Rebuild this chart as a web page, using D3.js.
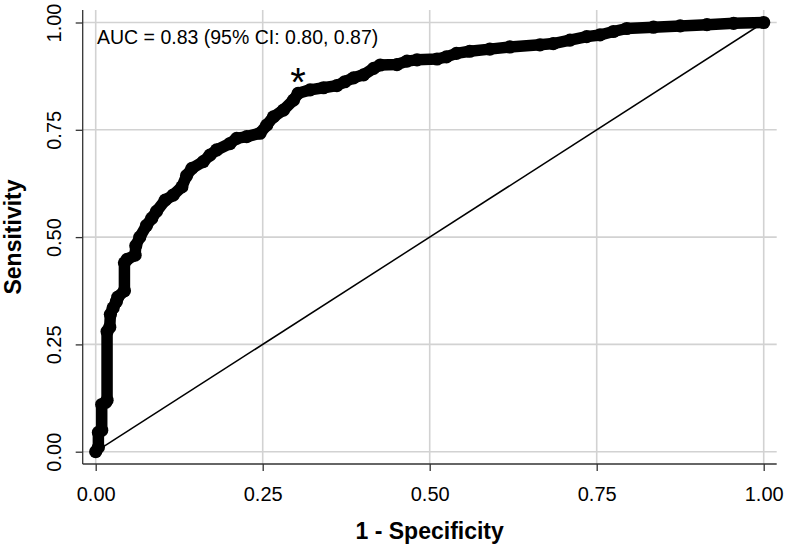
<!DOCTYPE html>
<html>
<head>
<meta charset="utf-8">
<script src="https://cdn.jsdelivr.net/npm/d3@7"></script>
<style>
  body { margin: 0; background: #fff; }
  svg { display: block; font-family: "Liberation Sans", Arial, sans-serif; }
</style>
</head>
<body>
<div id="chart"></div>
<script>
// ROC curve points
const fpr = [0, 0.004, 0.004, 0.009, 0.009, 0.015, 0.017, 0.017, 0.021, 0.022, 0.026, 0.031, 0.033, 0.043, 0.043,
  0.047, 0.059, 0.060, 0.066, 0.076, 0.084, 0.091, 0.104, 0.116, 0.129, 0.136, 0.144, 0.161, 0.171, 0.181,
  0.201, 0.211, 0.226, 0.246, 0.256, 0.266, 0.281, 0.296, 0.303, 0.321, 0.341, 0.361, 0.373, 0.386, 0.401,
  0.416, 0.426, 0.451, 0.466, 0.481, 0.511, 0.525, 0.54, 0.56, 0.59, 0.62, 0.665, 0.685, 0.71, 0.735,
  0.755, 0.775, 0.795, 0.835, 0.875, 0.915, 0.955, 1];
const tpr = [0, 0.01, 0.045, 0.05, 0.11, 0.115, 0.12, 0.28, 0.29, 0.32, 0.335, 0.35, 0.36, 0.375, 0.44,
  0.448, 0.458, 0.48, 0.50, 0.527, 0.544, 0.56, 0.586, 0.598, 0.617, 0.643, 0.66, 0.676, 0.691, 0.703,
  0.718, 0.73, 0.734, 0.742, 0.761, 0.78, 0.796, 0.819, 0.835, 0.843, 0.848, 0.853, 0.862, 0.871, 0.878,
  0.893, 0.901, 0.902, 0.91, 0.913, 0.915, 0.92, 0.928, 0.933, 0.938, 0.943, 0.948, 0.951, 0.959, 0.967,
  0.971, 0.979, 0.986, 0.989, 0.992, 0.995, 0.998, 1];
const cutoff = [0.303, 0.835];
const xTicks = [0, 0.25, 0.5, 0.75, 1];
const yTicks = [0, 0.25, 0.5, 0.75, 1];
const aucLabel = "AUC = 0.83 (95% CI: 0.80, 0.87)";

const width = 786, height = 546;
const plotLeft = 82.7, plotRight = 776.7, plotTop = 10, plotBottom = 464;

const svg = d3.select("#chart").append("svg")
  .attr("width", width)
  .attr("height", height);

// Scales
const x = d3.scaleLinear().domain([0, 1]).range([95.7, 763.7]);
const y = d3.scaleLinear().domain([0, 1]).range([451.7, 22.5]);

// Grid lines
svg.append("g")
  .selectAll("line")
  .data(yTicks)
  .enter()
  .append("line")
  .attr("x1", plotLeft).attr("x2", plotRight)
  .attr("y1", d => y(d)).attr("y2", d => y(d))
  .attr("stroke", "#d2d2d2").attr("stroke-width", 1.6);

svg.append("g")
  .selectAll("line")
  .data(xTicks)
  .enter()
  .append("line")
  .attr("x1", d => x(d)).attr("x2", d => x(d))
  .attr("y1", plotTop).attr("y2", plotBottom)
  .attr("stroke", "#d2d2d2").attr("stroke-width", 1.6);

// Reference diagonal
svg.append("line")
  .attr("x1", x(0)).attr("y1", y(0))
  .attr("x2", x(1)).attr("y2", y(1))
  .attr("stroke", "#000").attr("stroke-width", 1.5);

// ROC curve
const pts = fpr.map((d, i) => [d, tpr[i]]);
const line = d3.line().x(d => x(d[0])).y(d => y(d[1]));

svg.append("path")
  .datum(pts)
  .attr("d", line)
  .attr("fill", "none")
  .attr("stroke", "#000")
  .attr("stroke-width", 11.5)
  .attr("stroke-linejoin", "round")
  .attr("stroke-linecap", "round");

svg.append("g")
  .selectAll("circle")
  .data(pts)
  .enter()
  .append("circle")
  .attr("cx", d => x(d[0]))
  .attr("cy", d => y(d[1]))
  .attr("r", 6.6)
  .attr("fill", "#000");

// Axes
const xAxis = svg.append("g")
  .attr("transform", `translate(0,${plotBottom})`)
  .call(d3.axisBottom(x).tickValues(xTicks).tickSize(7).tickFormat(d3.format(".2f")));
xAxis.select(".domain").remove();
xAxis.selectAll("line").attr("stroke", "#333").attr("stroke-width", 1.3);
xAxis.selectAll("text")
  .attr("y", 37).attr("dy", null)
  .attr("fill", "#000")
  .style("font-size", "20px")
  .style("font-family", "Liberation Sans, Arial, sans-serif");

const yAxis = svg.append("g")
  .attr("transform", `translate(${plotLeft},0)`)
  .call(d3.axisLeft(y).tickValues(yTicks).tickSize(7).tickFormat(d3.format(".2f")));
yAxis.select(".domain").remove();
yAxis.selectAll("line").attr("stroke", "#333").attr("stroke-width", 1.3);
yAxis.selectAll("text")
  .attr("x", 0).attr("y", -21.7).attr("dy", null)
  .attr("transform", "rotate(-90)")
  .attr("text-anchor", "middle")
  .attr("fill", "#000")
  .style("font-size", "20px")
  .style("font-family", "Liberation Sans, Arial, sans-serif");

svg.append("line")
  .attr("x1", plotLeft).attr("x2", plotLeft)
  .attr("y1", plotTop).attr("y2", plotBottom)
  .attr("stroke", "#333").attr("stroke-width", 1.3);
svg.append("line")
  .attr("x1", plotLeft).attr("x2", plotRight)
  .attr("y1", plotBottom).attr("y2", plotBottom)
  .attr("stroke", "#333").attr("stroke-width", 1.3);

// Axis titles
svg.append("text")
  .attr("x", (plotLeft + plotRight) / 2)
  .attr("y", 539)
  .attr("text-anchor", "middle")
  .style("font-size", "23px")
  .style("font-weight", "bold")
  .text("1 - Specificity");

svg.append("text")
  .attr("transform", `translate(21,${(plotTop + plotBottom) / 2}) rotate(-90)`)
  .attr("text-anchor", "middle")
  .style("font-size", "23px")
  .style("font-weight", "bold")
  .text("Sensitivity");

// Annotations
svg.append("text")
  .attr("x", 97)
  .attr("y", 44)
  .style("font-size", "19.5px")
  .text(aucLabel);

svg.append("text")
  .attr("x", x(cutoff[0]))
  .attr("y", y(cutoff[1]) + 3)
  .attr("text-anchor", "middle")
  .style("font-size", "40px")
  .text("*");
</script>
</body>
</html>
